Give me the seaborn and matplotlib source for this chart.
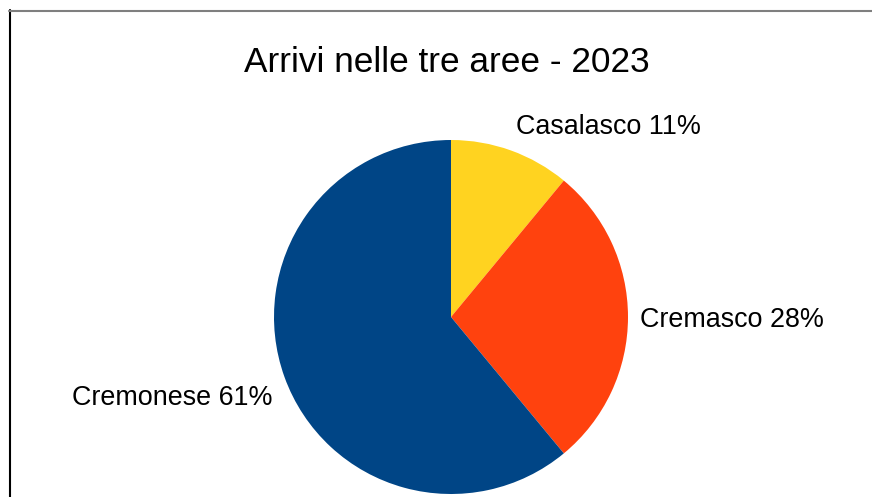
import matplotlib.pyplot as plt
import matplotlib.lines as mlines
import seaborn as sns

# data
areas = ['Casalasco', 'Cremasco', 'Cremonese']
shares = [11, 28, 61]
colors = ['#ffd320', '#ff420e', '#004586']
title = 'Arrivi nelle tre aree - 2023'

sns.set_style('white')
plt.rcParams['font.family'] = ['Liberation Sans', 'DejaVu Sans']

fig = plt.figure(figsize=(8.72, 4.97), dpi=100)
# pie axes: 354 px square, centre at (451, 317) px from top-left
ax = fig.add_axes([274 / 872, 3 / 497, 354 / 872, 354 / 497])
ax.pie(shares, colors=sns.color_palette(colors), startangle=90, counterclock=False,
       radius=1, wedgeprops=dict(linewidth=0))
ax.set_xlim(-1, 1)
ax.set_ylim(-1, 1)
ax.set_aspect('equal')
ax.axis('off')

# label placement (layout only)
label_pos = [(0.367, 1.074, 'left'), (1.068, -0.017, 'left'), (-1.011, -0.46, 'right')]
for name, val, (x, y, ha) in zip(areas, shares, label_pos):
    ax.text(x, y, f'{name} {val}%', ha=ha, va='center', fontsize=19.4, color='black')

fig.text(447 / 872, 1 - 63 / 497, title, ha='center', va='center', fontsize=25.4, color='black')

# chart frame
fig.add_artist(mlines.Line2D([9.5 / 872, 9.5 / 872], [0, 1 - 10 / 497], color='black', lw=1.5))
fig.add_artist(mlines.Line2D([9 / 872, 1], [1 - 10.5 / 497, 1 - 10.5 / 497], color='#7f7f7f', lw=1.5))

fig.savefig('out.png', dpi=100)
